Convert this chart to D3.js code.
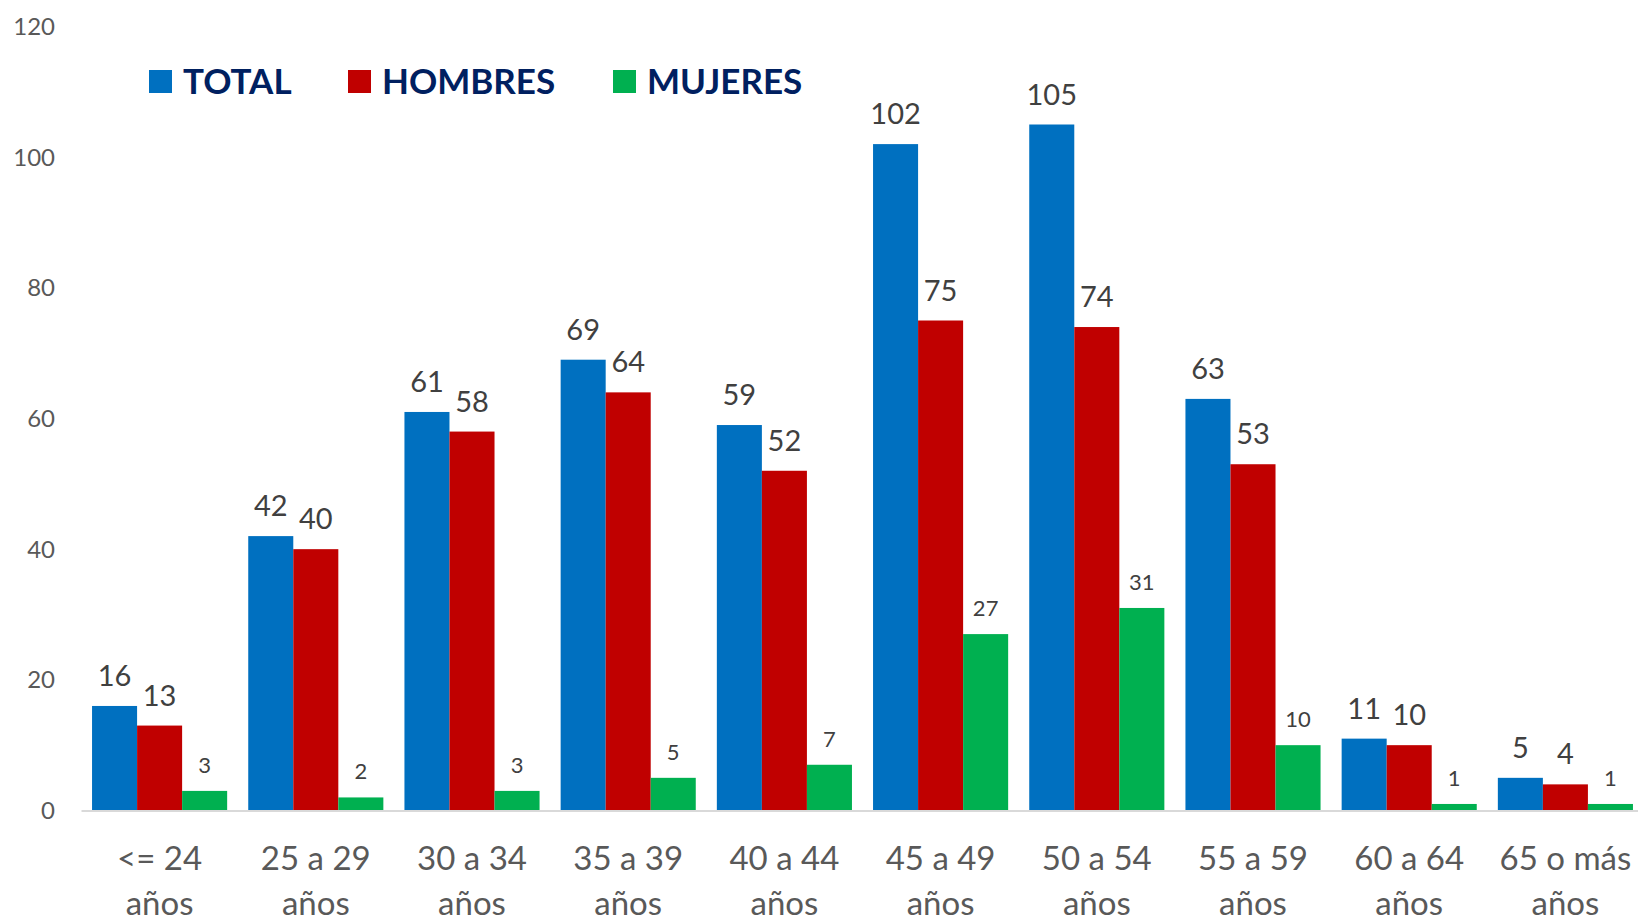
<!DOCTYPE html>
<html>
<head>
<meta charset="utf-8">
<script src="https://cdn.jsdelivr.net/npm/d3@7"></script>
<style>
  html, body { margin: 0; padding: 0; background: #fff; }
  svg { display: block; font-family: Lato, "Open Sans", sans-serif; }
</style>
</head>
<body>
<svg id="chart" width="1638" height="920"></svg>
<script>
// Age brackets and counts per series
const categories = ['<= 24 años', '25 a 29 años', '30 a 34 años', '35 a 39 años', '40 a 44 años',
                    '45 a 49 años', '50 a 54 años', '55 a 59 años', '60 a 64 años', '65 o más años'];
const seriesNames = ['TOTAL', 'HOMBRES', 'MUJERES'];
const total   = [16, 42, 61, 69, 59, 102, 105, 63, 11, 5];
const hombres = [13, 40, 58, 64, 52, 75, 74, 53, 10, 4];
const mujeres = [3, 2, 3, 5, 7, 27, 31, 10, 1, 1];
const yTicks  = [0, 20, 40, 60, 80, 100, 120];

const colors = { TOTAL: '#0070C0', HOMBRES: '#C00000', MUJERES: '#00B050' };
const values = { TOTAL: total, HOMBRES: hombres, MUJERES: mujeres };

const svg = d3.select('#chart');

const x0 = d3.scaleBand()
    .domain(categories)
    .range([81.5, 1643.5])
    .paddingInner(0.135)
    .paddingOuter(0.0675);

const x1 = d3.scaleBand()
    .domain(seriesNames)
    .range([0, x0.bandwidth()]);

const y = d3.scaleLinear()
    .domain([0, 120])
    .range([810.5, 26.5]);

// Y axis labels (no line, no ticks)
svg.append('g')
    .selectAll('text')
    .data(yTicks)
    .join('text')
    .attr('x', 55)
    .attr('y', d => y(d))
    .attr('dy', '0.36em')
    .attr('text-anchor', 'end')
    .attr('font-size', 24)
    .attr('fill', '#595959')
    .text(d => d);

// Bars
const groups = svg.append('g')
    .selectAll('g')
    .data(categories)
    .join('g')
    .attr('transform', d => `translate(${x0(d)},0)`);

groups.selectAll('rect')
    .data((d, i) => seriesNames.map(s => ({ s, v: values[s][i] })))
    .join('rect')
    .attr('x', d => x1(d.s))
    .attr('y', d => y(d.v))
    .attr('width', x1.bandwidth())
    .attr('height', d => y(0) - y(d.v))
    .attr('fill', d => colors[d.s]);

// Value labels
groups.selectAll('text')
    .data((d, i) => seriesNames.map(s => ({ s, v: values[s][i] })))
    .join('text')
    .attr('x', d => x1(d.s) + x1.bandwidth() / 2)
    .attr('y', d => y(d.v) - (d.s === 'MUJERES' ? 18 : 20))
    .attr('text-anchor', 'middle')
    .attr('font-size', d => d.s === 'MUJERES' ? 22 : 29)
    .attr('fill', '#404040')
    .text(d => d.v);

// Baseline
svg.append('line')
    .attr('x1', 81.5)
    .attr('x2', 1638)
    .attr('y1', y(0) + 0.5)
    .attr('y2', y(0) + 0.5)
    .attr('stroke', '#d9d9d9')
    .attr('stroke-width', 2);

// Category labels, two lines each
const catLabels = svg.append('g')
    .selectAll('text')
    .data(categories)
    .join('text')
    .attr('text-anchor', 'middle')
    .attr('font-size', 33)
    .attr('fill', '#595959');

catLabels.each(function(d) {
    const cut = d.lastIndexOf(' ');
    const lines = [d.slice(0, cut), d.slice(cut + 1)];
    const cx = x0(d) + x0.bandwidth() / 2;
    d3.select(this).selectAll('tspan')
        .data(lines)
        .join('tspan')
        .attr('x', cx)
        .attr('y', (l, i) => 870 + i * 45)
        .text(l => l);
});

// Legend
const legendX = [149, 348, 613];
const legend = svg.append('g')
    .selectAll('g')
    .data(seriesNames)
    .join('g')
    .attr('transform', (d, i) => `translate(${legendX[i]},70)`);

legend.append('rect')
    .attr('width', 23)
    .attr('height', 23)
    .attr('fill', d => colors[d]);

legend.append('text')
    .attr('x', 34)
    .attr('y', 24)
    .attr('font-size', 35)
    .attr('font-weight', 'bold')
    .attr('fill', '#002060')
    .text(d => d);
</script>
</body>
</html>
